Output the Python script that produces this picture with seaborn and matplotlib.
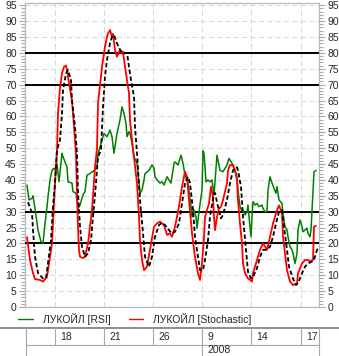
import matplotlib
matplotlib.use("Agg")
import matplotlib.pyplot as plt
import seaborn as sns
import pandas as pd
from matplotlib.lines import Line2D
from matplotlib.transforms import blended_transform_factory, offset_copy

# ---- data (x = bar position on the time axis, y = indicator value) ----
rsi_x = [2, 4, 7, 8, 10, 12, 13, 16, 18, 20,
         22, 23, 25, 27, 29, 31, 32, 34, 37, 38,
         42, 43, 47, 48, 51, 53, 55, 57, 58, 60,
         62, 65, 67, 68, 72, 73, 75, 77, 79, 82,
         85, 87, 89, 92, 95, 97, 99, 101, 102, 104,
         105, 107, 109, 112, 115, 117, 119, 120, 124, 127,
         129, 130, 132, 135, 137, 139, 142, 144, 146, 149,
         150, 153, 156, 158, 160, 163, 166, 167, 169, 171,
         172, 174, 177, 178, 179, 181, 183, 185, 187, 189,
         192, 195, 198, 202, 204, 207, 210, 212, 213, 215,
         217, 218, 220, 222, 223, 224, 226, 227, 228, 230,
         232, 234, 237, 238, 240, 242, 243, 245, 247, 249,
         251, 252, 254, 257, 258, 260, 262, 263, 265, 267,
         268, 270, 272, 273, 275, 277, 278, 280, 282, 283,
         285, 286, 288, 289, 291]
rsi_y = [38.4, 33.7, 34.2, 35.0, 31.0, 26.3, 24.2, 20.6, 20.0, 26.3,
         31.6, 34.7, 40.0, 43.0, 43.7, 42.6, 45.2, 39.4, 48.4, 47.3,
         44.0, 39.4, 39.0, 36.3, 35.8, 31.0, 32.1, 34.2, 35.3, 36.3,
         41.5, 42.0, 42.6, 42.6, 44.0, 48.4, 50.4, 52.6, 54.6, 53.6,
         55.7, 53.6, 48.4, 54.6, 58.9, 63.0, 61.0, 57.8, 53.6, 55.2,
         54.6, 51.5, 47.3, 45.2, 35.8, 36.8, 40.0, 42.0, 43.0, 44.7,
         43.7, 41.0, 40.0, 39.0, 39.4, 38.4, 41.0, 40.0, 39.0, 45.2,
         45.7, 44.7, 47.8, 45.2, 41.5, 39.0, 31.6, 28.4, 30.5, 28.4,
         24.8, 30.0, 36.8, 49.2, 48.4, 39.4, 40.0, 39.4, 40.0, 35.3,
         47.8, 43.0, 42.6, 44.7, 46.8, 45.2, 43.0, 41.0, 36.8, 31.6,
         30.0, 30.5, 29.0, 30.0, 32.1, 28.4, 22.1, 28.4, 33.2, 32.1,
         32.6, 31.6, 32.1, 31.0, 30.0, 30.0, 36.8, 41.0, 39.0, 37.4,
         35.8, 37.9, 33.7, 32.6, 29.5, 25.3, 24.2, 22.1, 19.0, 18.0,
         16.9, 13.7, 16.9, 24.2, 27.4, 25.3, 23.7, 24.2, 24.8, 23.2,
         22.1, 24.2, 36.8, 42.6, 43.0]

stoch_x = [2, 5, 8, 10, 15, 18, 22, 25, 27, 30,
           32, 33, 35, 37, 39, 41, 42, 43, 47, 49,
           51, 52, 53, 54, 55, 58, 60, 63, 67, 70,
           72, 73, 77, 80, 82, 83, 85, 87, 88, 90,
           92, 95, 97, 98, 100, 104, 105, 107, 109, 112,
           114, 115, 117, 119, 122, 125, 129, 132, 135, 139,
           142, 145, 147, 150, 154, 157, 160, 162, 164, 167,
           170, 173, 175, 177, 179, 180, 184, 186, 188, 189,
           190, 192, 194, 196, 198, 202, 203, 205, 208, 210,
           212, 213, 215, 217, 218, 220, 223, 227, 228, 232,
           235, 238, 240, 242, 245, 248, 252, 254, 257, 258,
           260, 262, 265, 268, 272, 273, 277, 280, 283, 285,
           288, 289, 291]
stoch_y = [22.0, 14.8, 10.7, 8.8, 8.5, 8.0, 9.5, 15.8, 20.0, 39.0,
           49.0, 61.0, 69.0, 73.6, 75.6, 76.0, 74.6, 72.5, 65.0, 57.0,
           48.0, 36.0, 25.0, 18.0, 15.8, 15.4, 16.0, 20.0, 30.5, 44.0,
           50.0, 64.0, 75.6, 82.0, 85.0, 86.0, 87.2, 85.0, 86.0, 81.0,
           78.8, 81.0, 79.8, 80.4, 75.6, 67.3, 59.0, 52.6, 47.0, 39.0,
           28.4, 21.0, 14.8, 11.6, 12.7, 18.0, 25.3, 26.3, 26.9, 25.8,
           22.7, 23.2, 22.1, 25.3, 31.6, 37.9, 42.6, 41.0, 33.7, 23.2,
           15.8, 10.6, 8.5, 13.8, 22.0, 28.4, 32.6, 37.9, 34.7, 28.4,
           24.2, 28.4, 31.0, 31.6, 33.7, 38.9, 43.0, 44.7, 44.7, 43.0,
           40.0, 33.7, 26.3, 20.0, 13.7, 10.6, 9.0, 8.0, 10.6, 14.8,
           18.0, 20.0, 19.0, 18.0, 22.1, 26.3, 30.5, 32.0, 29.5, 22.1,
           16.9, 11.6, 8.0, 6.9, 7.5, 10.6, 13.7, 14.8, 14.8, 14.3,
           14.8, 25.3, 25.5]

signal_x = [3, 7, 8, 10, 13, 18, 21, 23, 26, 28,
            30, 32, 35, 37, 38, 41, 43, 46, 47, 50,
            52, 53, 55, 57, 60, 63, 66, 68, 71, 73,
            76, 78, 80, 82, 85, 87, 89, 92, 95, 98,
            102, 104, 106, 109, 110, 112, 115, 118, 120, 124,
            127, 130, 134, 137, 140, 144, 147, 150, 154, 157,
            160, 163, 165, 168, 170, 173, 175, 178, 180, 183,
            185, 189, 190, 193, 196, 198, 202, 205, 208, 212,
            213, 216, 218, 221, 223, 226, 228, 232, 235, 238,
            242, 245, 248, 251, 254, 257, 259, 262, 264, 268,
            271, 273, 277, 280, 283, 287, 289, 292, 294]
signal_y = [33.0, 29.6, 24.2, 15.8, 10.7, 9.0, 9.1, 13.8, 21.0, 31.6,
            39.0, 49.4, 52.6, 61.0, 68.3, 73.5, 74.6, 71.4, 65.0, 56.7,
            48.4, 36.0, 25.3, 19.0, 15.8, 16.9, 21.0, 28.4, 39.0, 47.3,
            49.4, 63.0, 72.5, 77.8, 83.0, 85.0, 85.6, 83.0, 81.0, 79.8,
            80.0, 75.6, 71.4, 66.2, 56.7, 48.4, 33.7, 23.2, 15.8, 12.7,
            15.8, 22.1, 25.8, 26.5, 25.8, 24.2, 23.2, 23.7, 26.3, 32.6,
            39.0, 41.0, 39.0, 30.5, 22.1, 15.8, 11.6, 11.6, 14.8, 21.0,
            28.4, 35.8, 35.9, 31.6, 27.9, 29.0, 33.7, 39.0, 43.0, 44.0,
            43.0, 37.9, 28.4, 18.0, 11.1, 9.0, 9.5, 12.2, 15.8, 18.0,
            18.0, 19.0, 22.1, 26.3, 30.0, 30.5, 25.3, 18.0, 12.7, 9.0,
            6.9, 7.5, 10.6, 12.7, 13.7, 14.3, 14.8, 18.0, 18.6]

levels = [20, 30, 70, 80]
date_ticks = [30, 79, 128, 177, 226, 276]
date_labels = ["18", "21", "26", "9", "14", "17"]
year_label = "2008"
year_tick_index = 3
series_names = ["ЛУКОЙЛ [RSI]", "ЛУКОЙЛ [Stochastic]"]

# ---- figure ----
sns.set_style("white")
plt.rcParams["font.family"] = ["Liberation Sans", "DejaVu Sans"]

W, H = 339, 356
fig = plt.figure(figsize=(W / 100, H / 100), dpi=100)


def fx(px):
    return px / W


def fy(py):
    return 1 - py / H


ax = fig.add_axes([fx(25), fy(307), 294 / W, 304 / H])
ax.set_xlim(0, 294)
ax.set_ylim(0, 95.7)

grid_kw = dict(color="#d9d9d9", lw=0.75, linestyle=(0, (5, 3)))
ax.set_yticks(range(0, 96, 5))
ax.set_yticks(range(0, 96, 1), minor=True)
ax.set_xticks(date_ticks)
ax.set_xticklabels([])
ax.tick_params(axis="x", length=0)
ax.grid(True, axis="both", which="major", **grid_kw)
ax.set_axisbelow(True)
ax.tick_params(axis="y", which="both", left=True, right=True, labelleft=True,
               labelright=True, direction="out", color="#a8a8a8", labelsize=7.5,
               pad=1.5, width=0.8)
ax.tick_params(axis="y", which="major", length=4.5)
ax.tick_params(axis="y", which="minor", length=3)
for s in ax.spines.values():
    s.set_color("#b8b8b8")
    s.set_linewidth(0.9)

for lv in levels:
    ax.axhline(lv, color="black", lw=1.4, zorder=3)

df_rsi = pd.DataFrame({"x": rsi_x, "y": rsi_y})
df_st = pd.DataFrame({"x": stoch_x, "y": stoch_y})
df_sig = pd.DataFrame({"x": signal_x, "y": signal_y})

sns.lineplot(data=df_rsi, x="x", y="y", ax=ax, color="#008000", lw=1.1,
             estimator=None, sort=False, zorder=4)
sns.lineplot(data=df_st, x="x", y="y", ax=ax, color="#ff0000", lw=1.3,
             estimator=None, sort=False, zorder=5)
sns.lineplot(data=df_sig, x="x", y="y", ax=ax, color="black", lw=1.3,
             linestyle=(0, (2.4, 1.4)), estimator=None, sort=False, zorder=6)
ax.set_xlabel("")
ax.set_ylabel("")

# ---- legend (below plot) ----
fig.add_artist(Line2D([fx(18), fx(33)], [fy(319)] * 2, color="#008000", lw=1.0))
fig.text(fx(43), fy(319), series_names[0], fontsize=7.5, va="center", ha="left")
fig.add_artist(Line2D([fx(129), fx(143)], [fy(319)] * 2, color="#ff0000", lw=1.0))
fig.text(fx(153), fy(319), series_names[1], fontsize=7.5, va="center", ha="left")

# ---- date table ----
fig.add_artist(Line2D([0, 1], [fy(327.5)] * 2, color="#7a7a7a", lw=1.2))
tbl = "#a8a8a8"
fig.add_artist(Line2D([fx(26), fx(319)], [fy(344.5)] * 2, color=tbl, lw=0.8))
fig.add_artist(Line2D([fx(26)] * 2, [fy(328), fy(356)], color=tbl, lw=0.8))
fig.add_artist(Line2D([fx(319)] * 2, [fy(328), fy(356)], color=tbl, lw=0.8))
btr = blended_transform_factory(ax.transData, fig.transFigure)
for i, (t, lab) in enumerate(zip(date_ticks, date_labels)):
    y_bot = fy(356) if i == year_tick_index else fy(344.5)
    fig.add_artist(Line2D([t, t], [fy(328), y_bot], color=tbl, lw=0.8, transform=btr))
    fig.text(t, fy(337), lab, fontsize=7.5, va="center", ha="left",
             transform=offset_copy(btr, fig=fig, x=5, y=0, units="dots"))
fig.text(date_ticks[year_tick_index], fy(350), year_label, fontsize=7.5, va="center", ha="left",
         transform=offset_copy(btr, fig=fig, x=5, y=0, units="dots"))

fig.savefig("out.png", dpi=100)
